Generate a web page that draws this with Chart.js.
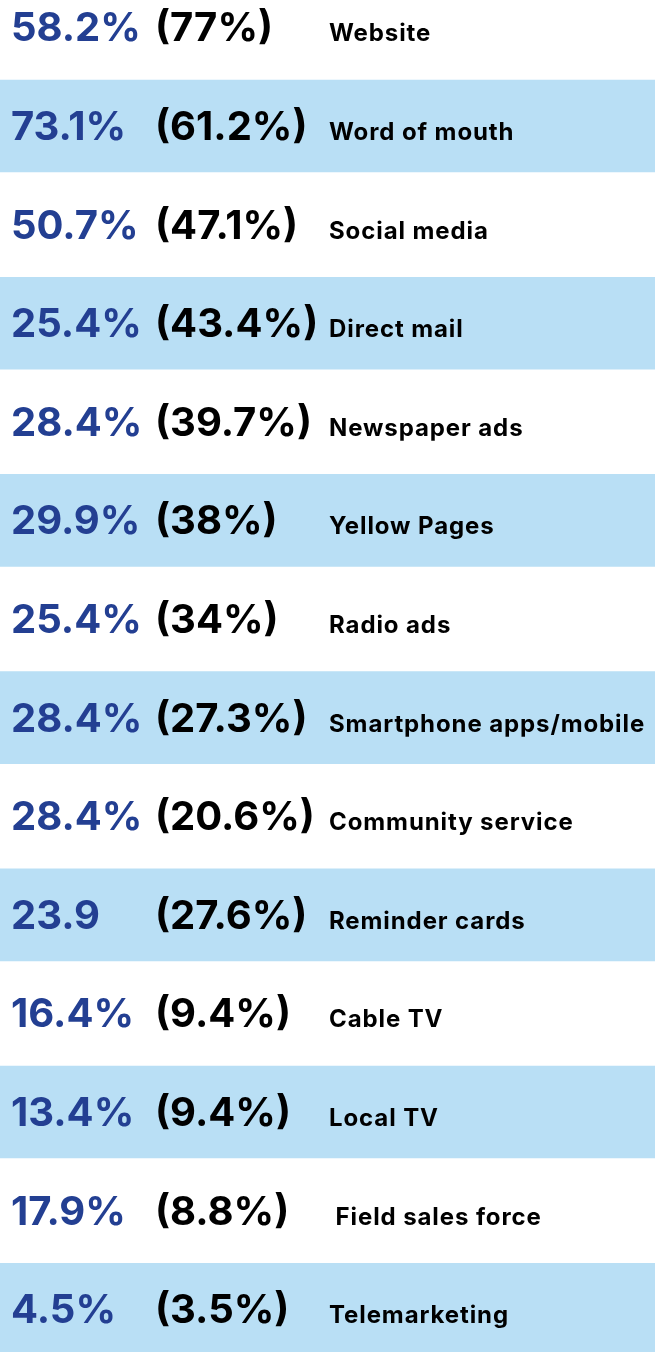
<!DOCTYPE html>
<html>
<head>
<meta charset="utf-8">
<script src="https://cdn.jsdelivr.net/npm/chart.js@4.4.1/dist/chart.umd.min.js"></script>
<style>
  html, body { margin: 0; padding: 0; background: #fff; }
  #wrap { width: 655px; height: 1352px; position: relative; }
</style>
</head>
<body>
<div id="wrap"><canvas id="chart"></canvas></div>
<script>
const categories = [
  "Website",
  "Word of mouth",
  "Social media",
  "Direct mail",
  "Newspaper ads",
  "Yellow Pages",
  "Radio ads",
  "Smartphone apps/mobile",
  "Community service",
  "Reminder cards",
  "Cable TV",
  "Local TV",
  " Field sales force",
  "Telemarketing",
];
const current = [58.2, 73.1, 50.7, 25.4, 28.4, 29.9, 25.4, 28.4, 28.4, 23.9, 16.4, 13.4, 17.9, 4.5];
const previous = [77, 61.2, 47.1, 43.4, 39.7, 38, 34, 27.3, 20.6, 27.6, 9.4, 9.4, 8.8, 3.5];
// labels as printed (reminder cards has no % sign in the source)
const currentLabels = ["58.2%", "73.1%", "50.7%", "25.4%", "28.4%", "29.9%", "25.4%", "28.4%", "28.4%", "23.9", "16.4%", "13.4%", "17.9%", "4.5%"];
const previousLabels = previous.map((v) => "(" + v + "%)");

const FONT = "Inter, Lato, sans-serif";

// text columns drawn at each row's position on the y scale
const tableText = {
  id: "tableText",
  afterDatasetsDraw(chart) {
    const { ctx, scales } = chart;
    const y = scales.y;
    ctx.save();
    ctx.textAlign = "left";
    ctx.textBaseline = "alphabetic";
    categories.forEach((cat, i) => {
      const base = y.getPixelForValue(i) + 14;
      ctx.letterSpacing = "0px";
      ctx.font = "bold 40px " + FONT;
      ctx.fillStyle = "#233f92";
      ctx.fillText(currentLabels[i], 11, base);
      ctx.fillStyle = "#000";
      ctx.fillText(previousLabels[i], 155, base);
      ctx.font = "bold 24px " + FONT;
      ctx.letterSpacing = "0.9px";
      ctx.fillText(cat, 329, base);
    });
    ctx.restore();
  },
};

// every other row gets a light blue stripe
const stripes = categories.map((c, i) => ({ y: i, x: i % 2 ? 1 : null }));

new Chart(document.querySelector("#chart").getContext("2d"), {
  type: "bar",
  data: {
    datasets: [
      {
        label: "rows",
        data: stripes,
        backgroundColor: "#b9dff5",
        borderWidth: 0,
        barThickness: 92,
      },
    ],
  },
  options: {
    indexAxis: "y",
    responsive: true,
    maintainAspectRatio: false,
    animation: false,
    layout: { padding: 0 },
    plugins: { legend: { display: false }, tooltip: { enabled: false } },
    scales: {
      x: { type: "linear", min: 0, max: 1, display: false },
      y: { type: "linear", reverse: true, offset: false, min: -0.278, max: 13.434, display: false },
    },
  },
  plugins: [tableText],
});
</script>
</body>
</html>
